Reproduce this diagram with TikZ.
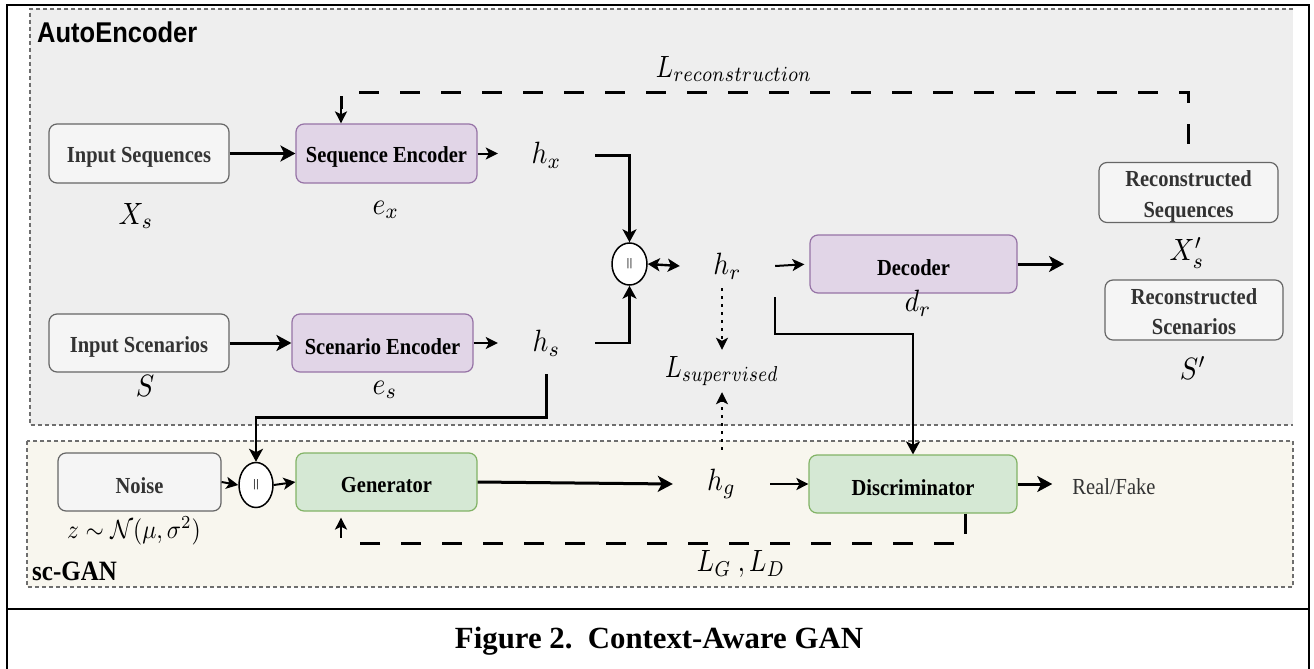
\documentclass[tikz,border=0pt]{standalone}
\usepackage{amsmath}
\usepackage{graphicx}
\usepackage{fontspec}
\setmainfont{Liberation Serif}
\newfontfamily\labelsans{Liberation Sans}
\usetikzlibrary{arrows.meta,shapes.geometric,calc}

\definecolor{aefill}{HTML}{EEEEEE}
\definecolor{ganfill}{HTML}{F8F6EE}
\definecolor{regionline}{HTML}{6E6E6E}
\definecolor{grayfill}{HTML}{F5F5F5}
\definecolor{grayline}{HTML}{666666}
\definecolor{graytext}{HTML}{333333}
\definecolor{purplefill}{HTML}{E1D5E7}
\definecolor{purpleline}{HTML}{9673A6}
\definecolor{greenfill}{HTML}{D5E8D4}
\definecolor{greenline}{HTML}{82B366}

% text is drawn slightly taller than wide
\newcommand\vst[1]{\scalebox{1}[1.12]{#1}}
% block text: stretched and set a little below the middle
\newcommand\bt[1]{\raisebox{-3.5pt}[\height][\depth]{\scalebox{1}[1.12]{#1}}}
% math symbols: set at 10pt, then enlarged
\newcommand\mth[2][2.75]{\scalebox{#1}[3.08]{\fontsize{10}{12}\selectfont$#2$}}
\newcommand\mthz[1]{\scalebox{2.35}[2.63]{\fontsize{10}{12}\selectfont$#1$}}
\newcommand\boxfont{\fontsize{20.5}{26.8}\selectfont\bfseries}
\newcommand\catmark{\labelsans\fontsize{11}{11}\selectfont\textcolor{graytext}{||}}

\begin{document}
\begin{tikzpicture}[x=1pt,y=-1pt,
  basebox/.style={draw, rounded corners=8pt, line width=1.2pt, inner sep=0pt,
    align=center, font=\boxfont},
  graybox/.style={basebox, fill=grayfill, draw=grayline, text=graytext},
  purplebox/.style={basebox, fill=purplefill, draw=purpleline, text=black},
  greenbox/.style={basebox, fill=greenfill, draw=greenline, text=black},
  cat/.style={ellipse, draw, fill=white, line width=1.5pt, inner sep=0pt},
  mlab/.style={inner sep=0pt},
  frame/.style={line width=2.8pt, black},
  region/.style={draw=regionline, line width=1.3pt, dash pattern=on 4pt off 3pt},
  bigarrow/.style={line width=3pt, -{Stealth[length=15pt, width=16pt, inset=4pt]}},
  midarrow/.style={line width=2.6pt, -{Stealth[length=13pt, width=14pt, inset=3.5pt]}},
  smallarrow/.style={line width=2pt, -{Stealth[length=12pt, width=12pt, inset=3pt]}},
  twoway/.style={line width=2.4pt, {Stealth[length=12pt, width=13pt, inset=3pt]}-{Stealth[length=12pt, width=13pt, inset=3pt]}},
  feedback/.style={line width=3pt, dash pattern=on 20pt off 21pt},
  feedtip/.style={line width=2.2pt, -{Stealth[length=12pt, width=12pt, inset=3pt]}},
  dotarrow/.style={line width=2.5pt, dash pattern=on 3pt off 5pt,
    -{Stealth[length=12pt, width=12pt, inset=3pt]}},
  plain/.style={line width=2.6pt}
]
\useasboundingbox (0,0) rectangle (1314,669);

% outer table frame
\draw[frame] (7,669) -- (7,5) -- (1309,5) -- (1309,669);
\draw[frame] (7,609) -- (1309,609);

% the two dashed regions
\fill[aefill] (30,9) rectangle (1293,425);
\draw[region] (1293,9) -- (30,9) -- (30,425) -- (1293,425);
\fill[ganfill] (27,441) rectangle (1293,587);
\draw[region] (27,441) rectangle (1293,587);

\node[anchor=base west, inner sep=0pt, font=\labelsans\bfseries\fontsize{25.5}{28}\selectfont]
  (aetitle) at (37,43) {\vst{AutoEncoder}};
\node[anchor=base west, inner sep=0pt, font=\bfseries\fontsize{25}{28}\selectfont]
  (gantitle) at (32,580) {\vst{sc-GAN}};

% blocks
\node[graybox, minimum width=180, minimum height=59] (inseq) at (139,153.5) {\bt{Input Sequences}};
\node[purplebox, minimum width=181, minimum height=59] (seqenc) at (386.5,153.5) {\bt{Sequence Encoder}};
\node[graybox, minimum width=180, minimum height=58] (insc) at (139,343) {\bt{Input Scenarios}};
\node[purplebox, minimum width=181, minimum height=58] (scenc) at (382.5,343) {\bt{Scenario Encoder}};
\node[purplebox, minimum width=207, minimum height=58] (dec) at (913.5,264) {\bt{Decoder}};
\node[graybox, minimum width=179, minimum height=59] (recseq) at (1188.5,192.5)
  {\bt{\begin{tabular}{@{}c@{}}Reconstructed\\Sequences\end{tabular}}};
\node[graybox, minimum width=178, minimum height=58] (recsc) at (1194,310)
  {\bt{\begin{tabular}{@{}c@{}}Reconstructed\\Scenarios\end{tabular}}};
\node[graybox, minimum width=163, minimum height=58] (noise) at (139.5,482) {\bt{Noise}};
\node[greenbox, minimum width=181, minimum height=58] (gen) at (386.5,482) {\bt{Generator}};
\node[greenbox, minimum width=208, minimum height=58] (disc) at (913,484) {\bt{Discriminator}};

% concatenation nodes
\node[cat, minimum width=35, minimum height=42] (cat1) at (629.5,264) {\catmark};
\node[cat, minimum width=34, minimum height=45] (cat2) at (256,485) {\catmark};

% symbols
\node[mlab] (Xs) at (136,216) {\mth{X_s}};
\node[mlab] (ex) at (386,210) {\mth{e_x}};
\node[mlab, minimum width=97] (hx) at (546.5,155.5) {\mth{h_x}};
\node[mlab] (Lrec) at (734,69) {\mth[2.55]{L_{reconstruction}}};
\node[mlab] (S) at (145,386) {\mth{S}};
\node[mlab] (es) at (385,390) {\mth{e_s}};
\node[mlab, minimum width=97, minimum height=62] (hs) at (546.5,343) {\mth{h_s}};
\node[mlab, minimum width=95, minimum height=44] (hr) at (727.5,266) {\mth{h_r}};
\node[mlab] (dr) at (918,303) {\mth{d_r}};
\node[mlab] (Xps) at (1187,253) {\mth{X'_s}};
\node[mlab] (Sp) at (1193,368) {\mth{S'}};
\node[mlab, minimum height=42] (Lsup) at (722,371) {\mth[2.45]{L_{supervised}}};
\node[mlab, minimum width=97, minimum height=68] (hg) at (721.5,484) {\mth{h_g}};
\node[mlab] (LGD) at (741,564) {\mth[2.55]{L_G\ ,L_D}};
\node[mlab] (zlab) at (134,531) {\mthz{z\sim\mathcal{N}(\mu,\sigma^2)}};
\node[inner ysep=0pt, inner xsep=20pt, font=\fontsize{20.5}{24}\selectfont, text=graytext]
  (rf) at (1114,487) {\vst{Real/Fake}};

\coordinate (decout) at (1064,264);
\coordinate (tap) at (775,297);

% autoencoder flow
\draw[bigarrow] (inseq.east) -- (seqenc.west);
\draw[bigarrow] (insc.east) -- (scenc.west);
\draw[smallarrow] (seqenc.east) -- (seqenc.east -| hx.west);
\draw[smallarrow] (scenc.east) -- (scenc.east -| hs.west);
\draw[midarrow] (hx.east) -| (cat1.north);
\draw[midarrow] (hs.east) -| (cat1.south);
\draw[twoway] (cat1.east) -- (hr.west);
\draw[smallarrow, shorten >=5pt] (hr.east) -- (dec.west);
\draw[bigarrow] (dec.east) -- (decout);
\draw[plain, -{Stealth[length=13pt, width=14pt, inset=3.5pt]}] (tap) -- ++(0,37) -| (disc.north);

% reconstruction loss
\draw[feedback, dash phase=23pt] (recseq.north) -- ++(0,-69) -| ([xshift=-45.5pt,yshift=14pt]seqenc.north);
\draw[feedtip] ([xshift=-45.5pt,yshift=14pt]seqenc.north) -- ([xshift=-45.5pt]seqenc.north);

% supervised loss
\draw[dotarrow] (hr.south -| Lsup.north) -- (Lsup.north);
\draw[dotarrow] (hg.north -| Lsup.south) -- (Lsup.south);

% scenario context into the generator
\draw[midarrow] (hs.south) -- ++(0,43) -| (cat2.north);

% GAN flow
\draw[smallarrow] (noise.east) -- (cat2.west);
\draw[smallarrow] (cat2.east) -- (gen.west);
\draw[bigarrow] (gen.east) -- (hg.west);
\draw[smallarrow] (hg.east) -- (disc.west);
\draw[bigarrow] (disc.east) -- (disc.east -| rf.west);

% adversarial loss
\draw[feedback] ([xshift=52pt]disc.south) -- ++(0,30) -| ([xshift=-45.5pt,yshift=-32pt]gen.south);
\draw[feedtip] ([xshift=-45.5pt,yshift=-26pt]gen.south) -- ([xshift=-45.5pt,yshift=-6pt]gen.south);

% caption
\node[font=\bfseries] (caption) at (659,641)
  {\resizebox{408pt}{!}{Figure 2.\ \ Context-Aware GAN}};
\end{tikzpicture}
\end{document}
